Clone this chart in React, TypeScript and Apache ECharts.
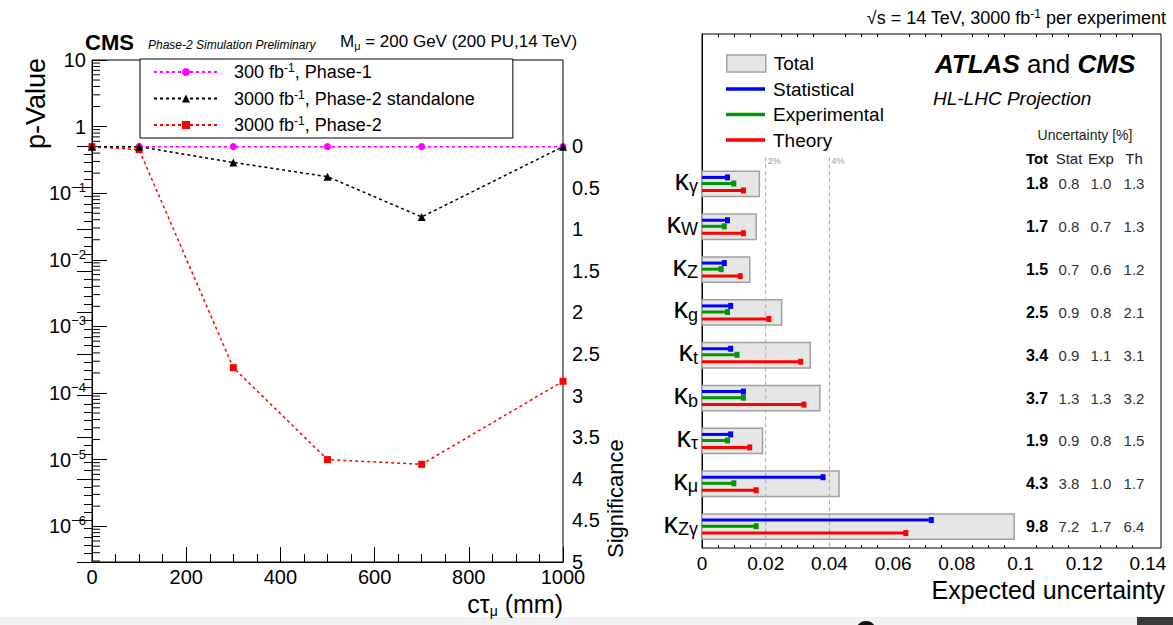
import React, { useEffect, useRef } from "react";
import * as echarts from "echarts";

const FONT = "'Liberation Sans', Arial, Helvetica, sans-serif";

// ---------- Left panel (CMS) data ----------
const ctau = [0, 100, 300, 500, 700, 1000];
const pPhase1 = [0.5, 0.5, 0.5, 0.5, 0.5, 0.5];
const pStandalone = [0.5, 0.5, 0.29, 0.177, 0.044, 0.5];
const pPhase2 = [0.5, 0.45, 2.4e-4, 1.0e-5, 8.5e-6, 1.5e-4];
const seriesNames = ["300 fb-1, Phase-1", "3000 fb-1, Phase-2 standalone", "3000 fb-1, Phase-2"];
const seriesColors = ["#ff00ff", "#000000", "#ff0000"];
const logDecades = [-7, -6, -5, -4, -3, -2, -1, 0];
const minorMultipliers = [2, 3, 4, 5, 6, 7, 8, 9];
const pMin = 2.9e-7;
const pMax = 10;

// ---------- Right panel (ATLAS+CMS) data ----------
const couplingSubs = ["γ", "W", "Z", "g", "t", "b", "τ", "μ", "Zγ"];
const totUnc = [1.8, 1.7, 1.5, 2.5, 3.4, 3.7, 1.9, 4.3, 9.8];
const statUnc = [0.8, 0.8, 0.7, 0.9, 0.9, 1.3, 0.9, 3.8, 7.2];
const expUnc = [1.0, 0.7, 0.6, 0.8, 1.1, 1.3, 0.8, 1.0, 1.7];
const thUnc = [1.3, 1.3, 1.2, 2.1, 3.1, 3.2, 1.5, 1.7, 6.4];
const refLines = [0.02, 0.04];
const headerSlots = ["_a", "_b", "_c"];

function buildOption(): any {
  const minorVals: number[][] = [];
  logDecades.forEach((d) =>
    minorMultipliers.forEach((m) => {
      const v = m * Math.pow(10, d);
      if (v > pMin && v < pMax) minorVals.push([0, v]);
    })
  );

  const yCats = [...headerSlots, ...couplingSubs];
  const off = headerSlots.length;

  const boxItem = (params: any, api: any) => {
    const v = api.value(0);
    const c = api.value(1);
    const s = api.coord([0, c]);
    const e = api.coord([v, c]);
    const band = api.size([0, 1])[1];
    const h = band * 0.59;
    return {
      type: "rect",
      shape: { x: s[0], y: s[1] - h / 2, width: e[0] - s[0], height: h },
      style: { fill: "#e6e6e6", stroke: "#a0a0a0", lineWidth: 1.5 },
    };
  };

  const lineItem = (frac: number, color: string) => (params: any, api: any) => {
    const v = api.value(0);
    const c = api.value(1);
    const s = api.coord([0, c]);
    const e = api.coord([v, c]);
    const band = api.size([0, 1])[1];
    const y = s[1] + band * frac;
    return {
      type: "group",
      children: [
        { type: "rect", shape: { x: s[0], y: y - 1.5, width: e[0] - s[0], height: 3 }, style: { fill: color } },
        { type: "rect", shape: { x: e[0] - 2.5, y: y - 3, width: 5, height: 6 }, style: { fill: color } },
      ],
    };
  };

  const refItem = (params: any, api: any) => {
    const v = api.value(0);
    const c = api.value(1);
    const p = api.coord([v, c]);
    const band = api.size([0, 1])[1];
    const cs = params.coordSys;
    const top = p[1] - band * 0.62;
    return {
      type: "group",
      children: [
        {
          type: "line",
          shape: { x1: p[0], y1: top, x2: p[0], y2: cs.y + cs.height },
          style: { stroke: "#a8a8a8", lineWidth: 1, lineDash: [4, 3] },
        },
        {
          type: "text",
          x: p[0] + 2,
          y: top + 4,
          style: { text: Math.round(v * 100) + "%", fontSize: 9, fontFamily: FONT, fill: "#999", align: "left", verticalAlign: "middle" },
        },
      ],
    };
  };

  const tableItem = (params: any, api: any) => {
    const c = api.value(1);
    const p = api.coord([0, c]);
    const cs = params.coordSys;
    const right = cs.x + cs.width;
    const cols = [
      { dx: -124, v: api.value(2), bold: true },
      { dx: -92, v: api.value(3), bold: false },
      { dx: -60, v: api.value(4), bold: false },
      { dx: -27, v: api.value(5), bold: false },
    ];
    return {
      type: "group",
      children: cols.map((col) => ({
        type: "text",
        x: right + col.dx,
        y: p[1],
        style: {
          text: Number(col.v).toFixed(1),
          fontSize: col.bold ? 16 : 15,
          fontWeight: col.bold ? "bold" : "normal",
          fontFamily: FONT,
          fill: col.bold ? "#000" : "#333",
          align: "center",
          verticalAlign: "middle",
        },
      })),
    };
  };

  const supRich = {
    sup: { fontSize: 12, lineHeight: 12, verticalAlign: "top", fontFamily: FONT, color: "#000" },
  };

  const axisBlack = { lineStyle: { color: "#000", width: 1 } };

  return {
    animation: false,
    backgroundColor: "#fff",
    textStyle: { fontFamily: FONT },
    grid: [
      { left: 92, top: 60, width: 471, height: 502, show: true, borderColor: "#000", borderWidth: 1 },
      { left: 92, top: 146, width: 471, height: 416 },
      { left: 702, top: 34, width: 459, height: 514, show: true, borderColor: "#000", borderWidth: 1 },
    ],
    xAxis: [
      {
        gridIndex: 0,
        type: "value",
        min: 0,
        max: 1000,
        interval: 200,
        axisLine: axisBlack,
        axisTick: { inside: true, length: 15, lineStyle: { color: "#000" } },
        minorTick: { show: true, splitNumber: 4, length: 8, lineStyle: { color: "#000" } },
        splitLine: { show: false },
        axisLabel: { color: "#000", fontSize: 20, margin: 5, fontFamily: FONT, formatter: (v: number) => String(v) },
        name: "{a|cτ}{s|μ}{a| (mm)}",
        nameLocation: "end",
        nameGap: 0,
        nameTextStyle: {
          align: "right",
          verticalAlign: "top",
          padding: [28, 0, 0, 0],
          rich: {
            a: { fontSize: 25, lineHeight: 28, color: "#000", fontFamily: FONT },
            s: { fontSize: 14, lineHeight: 14, verticalAlign: "bottom", color: "#000", fontFamily: FONT },
          },
        },
      },
      { gridIndex: 1, type: "value", min: 0, max: 1, show: false },
      {
        gridIndex: 2,
        type: "value",
        min: 0,
        max: 0.1441,
        interval: 0.02,
        axisLine: axisBlack,
        axisTick: { inside: true, length: 6, lineStyle: { color: "#000" } },
        minorTick: { show: true, splitNumber: 4, length: 3, lineStyle: { color: "#000" } },
        splitLine: { show: false },
        axisLabel: { color: "#000", fontSize: 19, margin: 6, fontFamily: FONT, showMaxLabel: false },
        name: "Expected uncertainty",
        nameLocation: "end",
        nameGap: 4,
        nameTextStyle: { align: "right", verticalAlign: "top", padding: [29, 0, 0, 0], fontSize: 25, color: "#000", fontFamily: FONT },
      },
      {
        gridIndex: 2,
        type: "value",
        position: "top",
        min: 0,
        max: 0.1441,
        interval: 0.02,
        axisLine: axisBlack,
        axisTick: { inside: true, length: 6, lineStyle: { color: "#000" } },
        minorTick: { show: true, splitNumber: 4, length: 3, lineStyle: { color: "#000" } },
        splitLine: { show: false },
        axisLabel: { show: false },
      },
    ],
    yAxis: [
      {
        gridIndex: 0,
        type: "log",
        logBase: 10,
        min: pMin,
        max: pMax,
        axisLine: axisBlack,
        axisTick: { inside: true, length: 15, lineStyle: { color: "#000" } },
        splitLine: { show: false },
        axisLabel: {
          showMinLabel: false,
          margin: 6,
          padding: [0, 0, 4, 0],
          formatter: (v: number) => {
            const e = Math.round(Math.log10(v));
            if (e === 1) return "{b|10}";
            if (e === 0) return "{b|1}";
            return "{b|10}{s|−" + -e + "}";
          },
          rich: {
            b: { fontSize: 20, lineHeight: 20, padding: [4, 0, 0, 0], color: "#000", fontFamily: FONT },
            s: { fontSize: 13, lineHeight: 13, verticalAlign: "top", color: "#000", fontFamily: FONT },
          },
        },
      },
      {
        gridIndex: 1,
        type: "value",
        position: "right",
        inverse: true,
        min: 0,
        max: 5,
        interval: 0.5,
        axisLine: axisBlack,
        axisTick: { inside: true, length: 15, lineStyle: { color: "#000" } },
        minorTick: { show: true, splitNumber: 5, length: 8, lineStyle: { color: "#000" } },
        splitLine: { show: false },
        axisLabel: { color: "#000", fontSize: 20, margin: 9, fontFamily: FONT },
      },
      {
        gridIndex: 2,
        type: "category",
        data: yCats,
        inverse: true,
        axisLine: axisBlack,
        axisTick: { show: false },
        splitLine: { show: false },
        axisLabel: {
          margin: 4,
          padding: [0, 0, 7, 0],
          formatter: (v: string) => (v.startsWith("_") ? "" : "{k|κ}{s|" + v + "}"),
          rich: {
            k: { fontSize: 29, lineHeight: 30, padding: [0, 0, 12, 0], verticalAlign: "top", color: "#000", fontFamily: FONT },
            s: { fontSize: 18, lineHeight: 18, verticalAlign: "bottom", color: "#000", fontFamily: FONT },
          },
        },
      },
    ],
    legend: [
      {
        data: seriesNames,
        left: 140,
        top: 59,
        orient: "vertical",
        itemWidth: 64,
        itemHeight: 10,
        itemGap: 6.5,
        padding: [3, 38, 3, 13],
        backgroundColor: "#fff",
        borderColor: "#000",
        borderWidth: 1,
        borderRadius: 0,
        selectedMode: false,
        formatter: (name: string) => name.replace("fb-1", "fb{sup|-1}"),
        textStyle: { fontSize: 18, lineHeight: 20, color: "#000", fontFamily: FONT, padding: [0, 0, 0, 11], rich: supRich },
      },
      {
        data: [{ name: "Total", icon: "rect", itemStyle: { color: "#e6e6e6", borderColor: "#a0a0a0", borderWidth: 1.5 } }],
        left: 726,
        top: 53.5,
        orient: "vertical",
        itemWidth: 39,
        itemHeight: 17,
        padding: 0,
        selectedMode: false,
        textStyle: { fontSize: 19, lineHeight: 20, color: "#000", fontFamily: FONT, padding: [0, 0, 0, 3] },
      },
      {
        data: [
          { name: "Statistical", icon: "rect" },
          { name: "Experimental", icon: "rect" },
          { name: "Theory", icon: "rect" },
        ],
        left: 726,
        top: 79,
        orient: "vertical",
        itemWidth: 39,
        itemHeight: 3.5,
        itemGap: 5.5,
        padding: 0,
        selectedMode: false,
        textStyle: { fontSize: 19, lineHeight: 20, color: "#000", fontFamily: FONT, padding: [0, 0, 0, 3] },
      },
    ],
    series: [
      {
        type: "line",
        name: seriesNames[0],
        xAxisIndex: 0,
        yAxisIndex: 0,
        data: ctau.map((x, i) => [x, pPhase1[i]]),
        symbol: "circle",
        symbolSize: 7,
        itemStyle: { color: seriesColors[0] },
        lineStyle: { color: seriesColors[0], width: 1.5, type: [3, 3] },
      },
      {
        type: "line",
        name: seriesNames[2],
        xAxisIndex: 0,
        yAxisIndex: 0,
        data: ctau.map((x, i) => [x, pPhase2[i]]),
        symbol: "rect",
        symbolSize: 7,
        itemStyle: { color: seriesColors[2] },
        lineStyle: { color: seriesColors[2], width: 1.5, type: [3, 3] },
      },
      {
        type: "line",
        name: seriesNames[1],
        xAxisIndex: 0,
        yAxisIndex: 0,
        data: ctau.map((x, i) => [x, pStandalone[i]]),
        symbol: "triangle",
        symbolSize: 8,
        itemStyle: { color: seriesColors[1] },
        lineStyle: { color: seriesColors[1], width: 1.5, type: [3, 3] },
      },
      {
        type: "custom",
        name: "minorTicks",
        xAxisIndex: 0,
        yAxisIndex: 0,
        silent: true,
        data: minorVals,
        renderItem: (params: any, api: any) => {
          const p = api.coord([0, api.value(1)]);
          return {
            type: "line",
            shape: { x1: p[0], y1: p[1], x2: p[0] + 8, y2: p[1] },
            style: { stroke: "#000", lineWidth: 1 },
          };
        },
      },
      {
        type: "custom",
        name: "Total",
        xAxisIndex: 2,
        yAxisIndex: 2,
        itemStyle: { color: "#e6e6e6", borderColor: "#a0a0a0", borderWidth: 1.5 },
        data: totUnc.map((t, i) => [t / 100, i + off]),
        encode: { x: 0, y: 1 },
        renderItem: boxItem,
      },
      {
        type: "custom",
        name: "refs",
        xAxisIndex: 2,
        yAxisIndex: 2,
        silent: true,
        data: refLines.map((v) => [v, off]),
        encode: { x: 0, y: 1 },
        renderItem: refItem,
      },
      {
        type: "custom",
        name: "Statistical",
        xAxisIndex: 2,
        yAxisIndex: 2,
        itemStyle: { color: "#0000ff" },
        data: statUnc.map((t, i) => [t / 100, i + off]),
        encode: { x: 0, y: 1 },
        renderItem: lineItem(-0.152, "#0000ff"),
      },
      {
        type: "custom",
        name: "Experimental",
        xAxisIndex: 2,
        yAxisIndex: 2,
        itemStyle: { color: "#009600" },
        data: expUnc.map((t, i) => [t / 100, i + off]),
        encode: { x: 0, y: 1 },
        renderItem: lineItem(-0.01, "#009600"),
      },
      {
        type: "custom",
        name: "Theory",
        xAxisIndex: 2,
        yAxisIndex: 2,
        itemStyle: { color: "#ff0000" },
        data: thUnc.map((t, i) => [t / 100, i + off]),
        encode: { x: 0, y: 1 },
        renderItem: lineItem(0.152, "#ff0000"),
      },
      {
        type: "custom",
        name: "table",
        xAxisIndex: 2,
        yAxisIndex: 2,
        silent: true,
        data: totUnc.map((t, i) => [0, i + off, t, statUnc[i], expUnc[i], thUnc[i]]),
        encode: { x: 0, y: 1 },
        renderItem: tableItem,
      },
    ],
    graphic: [
      { type: "text", x: 85, y: 42, style: { text: "CMS", fontSize: 22, fontWeight: "bold", fontFamily: FONT, fill: "#000", align: "left", verticalAlign: "middle" } },
      { type: "text", x: 148, y: 45, style: { text: "Phase-2 Simulation Preliminary", fontSize: 12, fontStyle: "italic", fontFamily: FONT, fill: "#000", align: "left", verticalAlign: "middle" } },
      {
        type: "text",
        x: 340,
        y: 41,
        style: {
          text: "{a|M}{s|μ}{a| = 200 GeV (200 PU,14 TeV)}",
          align: "left",
          verticalAlign: "middle",
          rich: {
            a: { fontSize: 17, lineHeight: 20, fontFamily: FONT, fill: "#000" },
            s: { fontSize: 11, lineHeight: 11, verticalAlign: "bottom", fontFamily: FONT, fill: "#000" },
          },
        },
      },
      { type: "text", x: 36, y: 58, rotation: Math.PI / 2, style: { text: "p-Value", fontSize: 27, fontFamily: FONT, fill: "#000", align: "right", verticalAlign: "middle" } },
      { type: "text", x: 615, y: 558, rotation: Math.PI / 2, style: { text: "Significance", fontSize: 22, fontFamily: FONT, fill: "#000", align: "left", verticalAlign: "middle" } },
      {
        type: "text",
        x: 1166,
        y: 18,
        style: {
          text: "{a|√s = 14 TeV, 3000 fb}{sup|-1}{a| per experiment}",
          align: "right",
          verticalAlign: "middle",
          rich: {
            a: { fontSize: 18, lineHeight: 20, fontFamily: FONT, fill: "#000" },
            sup: { fontSize: 12, lineHeight: 12, verticalAlign: "top", fontFamily: FONT, fill: "#000" },
          },
        },
      },
      {
        type: "text",
        x: 935,
        y: 64,
        style: {
          text: "{b|ATLAS}{r| and }{b|CMS}",
          align: "left",
          verticalAlign: "middle",
          rich: {
            b: { fontSize: 26, fontWeight: "bold", fontStyle: "italic", fontFamily: FONT, fill: "#000" },
            r: { fontSize: 26, fontFamily: FONT, fill: "#000" },
          },
        },
      },
      { type: "text", x: 933, y: 98, style: { text: "HL-LHC Projection", fontSize: 19, fontStyle: "italic", fontFamily: FONT, fill: "#000", align: "left", verticalAlign: "middle" } },
      { type: "text", x: 1085, y: 135, style: { text: "Uncertainty [%]", fontSize: 14, fontFamily: FONT, fill: "#222", align: "center", verticalAlign: "middle" } },
      { type: "text", x: 1037, y: 158, style: { text: "Tot", fontSize: 15, fontWeight: "bold", fontFamily: FONT, fill: "#000", align: "center", verticalAlign: "middle" } },
      { type: "text", x: 1069, y: 158, style: { text: "Stat", fontSize: 15, fontFamily: FONT, fill: "#222", align: "center", verticalAlign: "middle" } },
      { type: "text", x: 1101, y: 158, style: { text: "Exp", fontSize: 15, fontFamily: FONT, fill: "#222", align: "center", verticalAlign: "middle" } },
      { type: "text", x: 1134, y: 158, style: { text: "Th", fontSize: 15, fontFamily: FONT, fill: "#222", align: "center", verticalAlign: "middle" } },
      { type: "rect", shape: { x: 0, y: 617, width: 1137, height: 8 }, style: { fill: "#f2f2f2" }, silent: true },
      { type: "rect", shape: { x: 1137, y: 617, width: 36, height: 8 }, style: { fill: "#3a3a3a" }, silent: true },
      { type: "ellipse", shape: { cx: 866, cy: 628, rx: 9, ry: 7 }, style: { fill: "#111" }, silent: true },
    ],
  };
}

export default function App() {
  const ref = useRef<HTMLDivElement>(null);
  useEffect(() => {
    if (!ref.current) return;
    const chart = echarts.init(ref.current, undefined, { renderer: "svg" });
    chart.setOption(buildOption());
    return () => chart.dispose();
  }, []);
  return (
    <div
      ref={ref}
      style={{ position: "fixed", left: 0, top: 0, width: 1173, height: 625, background: "#fff" }}
    />
  );
}
